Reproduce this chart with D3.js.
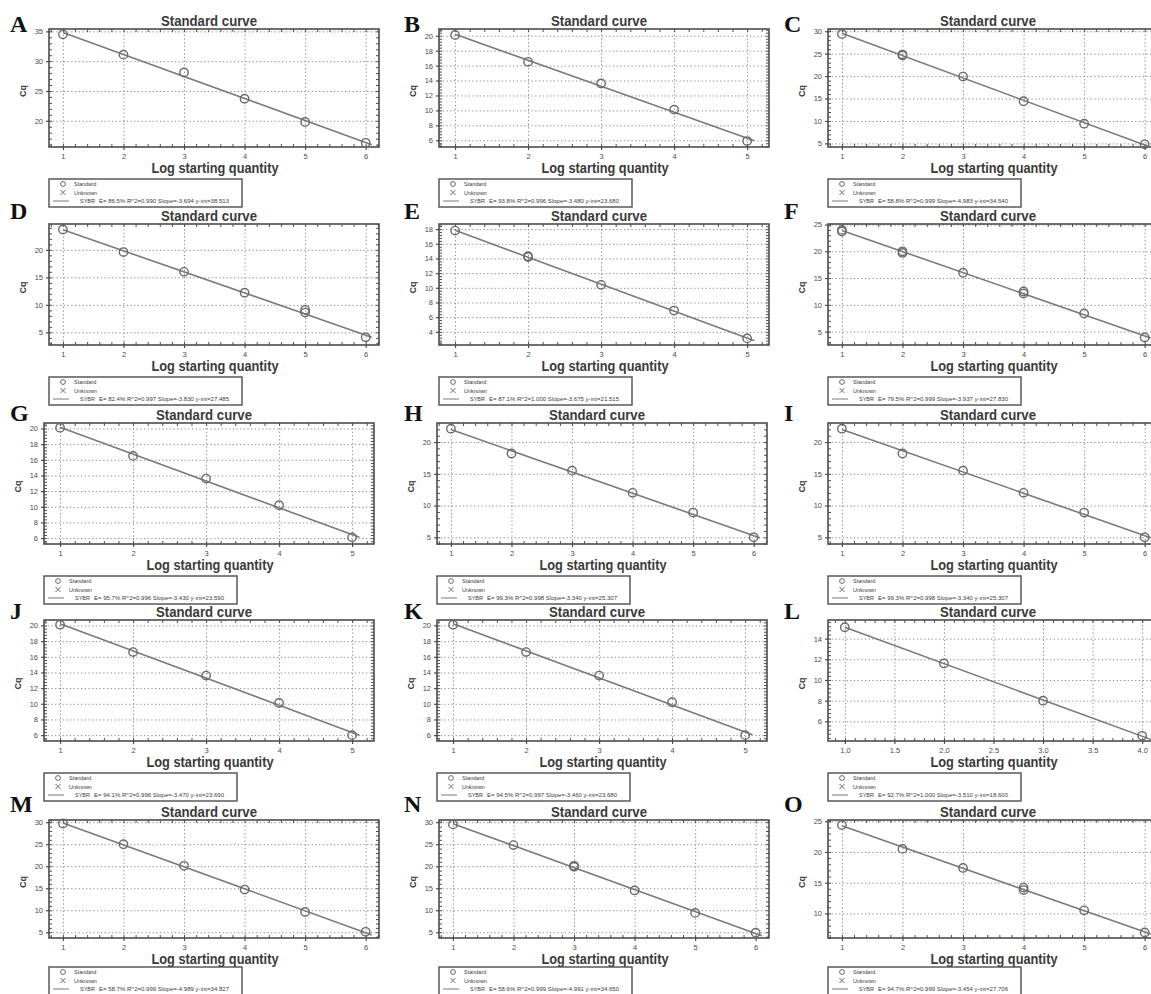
<!DOCTYPE html>
<html>
<head>
<meta charset="utf-8">
<script src="https://cdn.jsdelivr.net/npm/d3@7"></script>
<style>
  body { margin: 0; background: #fff; }
  svg { display: block; font-family: "Liberation Sans", Arial, sans-serif; }
  .letter { font-family: "Liberation Serif", "Times New Roman", serif; }
</style>
</head>
<body>
<svg id="fig" width="1151" height="994"></svg>
<script>
// ---- Data: qPCR standard curves (Cq vs log starting quantity) ----
const panelIds = ["A","B","C","D","E","F","G","H","I","J","K","L","M","N","O"];

const logQtyA = [1,2,3,4,5,6],           cqA = [34.5,31.1,28.1,23.7,19.8,16.3];
const logQtyB = [1,2,3,4,5],             cqB = [20.1,16.5,13.6,10.1,5.9];
const logQtyC = [1,2,2,3,4,5,6],         cqC = [29.4,24.8,24.6,19.9,14.4,9.4,4.8];
const logQtyD = [1,2,3,4,5,5,6],         cqD = [23.7,19.6,16.0,12.2,8.6,9.1,4.1];
const logQtyE = [1,2,2,3,4,5],           cqE = [17.8,14.3,14.2,10.4,6.9,3.1];
const logQtyF = [1,1,2,2,3,4,4,5,6],     cqF = [24.0,23.7,20.0,19.7,16.0,12.5,12.1,8.4,3.9];
const logQtyG = [1,2,3,4,5],             cqG = [20.1,16.5,13.6,10.2,6.1];
const logQtyH = [1,2,3,4,5,6],           cqH = [22.1,18.2,15.5,12.0,8.9,5.0];
const logQtyI = [1,2,3,4,5,6],           cqI = [22.1,18.2,15.5,12.0,8.9,5.0];
const logQtyJ = [1,2,3,4,5],             cqJ = [20.1,16.6,13.6,10.1,6.0];
const logQtyK = [1,2,3,4,5],             cqK = [20.1,16.6,13.6,10.2,6.0];
const logQtyL = [1,2,3,4],               cqL = [15.1,11.6,8.0,4.6];
const logQtyM = [1,2,3,4,5,6],           cqM = [29.7,25.0,20.1,14.7,9.6,5.1];
const logQtyN = [1,2,3,3,4,5,6],         cqN = [29.5,24.8,19.9,20.1,14.5,9.4,4.9];
const logQtyO = [1,2,3,4,4,5,6],         cqO = [24.4,20.5,17.4,14.2,13.8,10.5,6.9];

// Fit statistics shown in each legend (the regression line is drawn from these)
const slopes       = [-3.694,-3.480,-4.983,-3.830,-3.675,-3.937,-3.430,-3.340,-3.340,-3.470,-3.460,-3.510,-4.989,-4.991,-3.454];
const intercepts   = [38.513,23.680,34.540,27.485,21.515,27.830,23.590,25.307,25.307,23.690,23.680,18.600,34.827,34.650,27.706];
const efficiencies = [86.5,93.8,58.8,82.4,87.1,79.5,95.7,99.3,99.3,94.1,94.5,92.7,58.7,58.6,94.7];
const rSquared     = [0.990,0.996,0.999,0.997,1.000,0.999,0.996,0.998,0.998,0.996,0.997,1.000,0.999,0.999,0.999];

// Axis ticks and ranges
const xTicksSix  = [1,2,3,4,5,6];
const xTicksFive = [1,2,3,4,5];
const xTicksHalf = [1.0,1.5,2.0,2.5,3.0,3.5,4.0];
const xRangeSix  = [0.77, 6.22];
const xRangeFive = [0.78, 5.30];
const xRangeHalf = [0.83, 4.16];

const yTicksA = [20,25,30,35],            yRangeA = [15.6,35.4];
const yTicksB = [6,8,10,12,14,16,18,20],  yRangeB = [5.1,20.9];
const yTicksC = [5,10,15,20,25,30],       yRangeC = [4.2,30.5];
const yTicksD = [5,10,15,20],             yRangeD = [2.7,24.7];
const yTicksE = [4,6,8,10,12,14,16,18],   yRangeE = [2.2,18.7];
const yTicksF = [5,10,15,20,25],          yRangeF = [2.5,25.1];
const yTicksG = [6,8,10,12,14,16,18,20],  yRangeG = [5.25,20.7];
const yTicksH = [5,10,15,20],             yRangeH = [3.95,23.0];
const yTicksL = [6,8,10,12,14],           yRangeL = [4.1,15.8];
const yTicksM = [5,10,15,20,25,30],       yRangeM = [3.7,30.5];
const yTicksO = [10,15,20,25],            yRangeO = [6.0,25.2];

const legendLabels = ["Standard", "Unknown", "SYBR"];
const titleText = "Standard curve";
const xLabelText = "Log starting quantity";
const yLabelText = "Cq";

// Panel table assembled from the arrays above
const panels = [
  {x: logQtyA, y: cqA, xt: xTicksSix,  xr: xRangeSix,  yt: yTicksA, yr: yRangeA},
  {x: logQtyB, y: cqB, xt: xTicksFive, xr: xRangeFive, yt: yTicksB, yr: yRangeB},
  {x: logQtyC, y: cqC, xt: xTicksSix,  xr: xRangeSix,  yt: yTicksC, yr: yRangeC},
  {x: logQtyD, y: cqD, xt: xTicksSix,  xr: xRangeSix,  yt: yTicksD, yr: yRangeD},
  {x: logQtyE, y: cqE, xt: xTicksFive, xr: xRangeFive, yt: yTicksE, yr: yRangeE},
  {x: logQtyF, y: cqF, xt: xTicksSix,  xr: xRangeSix,  yt: yTicksF, yr: yRangeF},
  {x: logQtyG, y: cqG, xt: xTicksFive, xr: xRangeFive, yt: yTicksG, yr: yRangeG},
  {x: logQtyH, y: cqH, xt: xTicksSix,  xr: xRangeSix,  yt: yTicksH, yr: yRangeH},
  {x: logQtyI, y: cqI, xt: xTicksSix,  xr: xRangeSix,  yt: yTicksH, yr: yRangeH},
  {x: logQtyJ, y: cqJ, xt: xTicksFive, xr: xRangeFive, yt: yTicksG, yr: yRangeG},
  {x: logQtyK, y: cqK, xt: xTicksFive, xr: xRangeFive, yt: yTicksG, yr: yRangeG},
  {x: logQtyL, y: cqL, xt: xTicksHalf, xr: xRangeHalf, yt: yTicksL, yr: yRangeL},
  {x: logQtyM, y: cqM, xt: xTicksSix,  xr: xRangeSix,  yt: yTicksM, yr: yRangeM},
  {x: logQtyN, y: cqN, xt: xTicksSix,  xr: xRangeSix,  yt: yTicksM, yr: yRangeM},
  {x: logQtyO, y: cqO, xt: xTicksSix,  xr: xRangeSix,  yt: yTicksO, yr: yRangeO}
].map((p, i) => ({...p, id: panelIds[i], slope: slopes[i], intercept: intercepts[i],
                  eff: efficiencies[i], r2: rSquared[i]}));

// ---- Layout ----
const colLeft   = [49, 439, 828];
const colLetter = [10, 404, 784];
const rowTop    = [29, 224, 423, 620, 820];
const rowHeight = [118, 121, 121, 121, 118];
const letterDy  = [3, -5, -2, -1, -8];
const legendGap = [32, 32, 32, 32, 29];
const plotWidth = 330;
const leftShift = {G: -5, J: -5, H: -2, K: -2};

const frameColor = "#4d4d4d";
const gridColor  = "#8a8a8a";
const markColor  = "#6a6a6a";
const lineColor  = "#7a7a7a";
const textColor  = "#4a4a4a";

const svg = d3.select("#fig");

panels.forEach((p, i) => {
  const row = Math.floor(i / 3), col = i % 3;
  const left = colLeft[col] + (leftShift[p.id] || 0);
  const top = rowTop[row], h = rowHeight[row], w = plotWidth;
  const bottom = top + h;

  const x = d3.scaleLinear().domain(p.xr).range([left, left + w]);
  const y = d3.scaleLinear().domain(p.yr).range([bottom, top]);

  const g = svg.append("g").attr("class", "panel");

  // dotted grid at the major ticks
  g.append("g").attr("transform", `translate(0,${bottom})`)
    .call(d3.axisBottom(x).tickValues(p.xt).tickSize(-h).tickFormat(""))
    .call(s => s.select(".domain").remove())
    .selectAll("line").attr("stroke", gridColor).attr("stroke-width", 1)
    .attr("stroke-dasharray", "1.3,2.4");
  g.append("g").attr("transform", `translate(${left},0)`)
    .call(d3.axisLeft(y).tickValues(p.yt).tickSize(-w).tickFormat(""))
    .call(s => s.select(".domain").remove())
    .selectAll("line").attr("stroke", gridColor).attr("stroke-width", 1)
    .attr("stroke-dasharray", "1.3,2.4");

  // minor ticks pointing inward on all four sides
  const xStep = p.xt[1] - p.xt[0];
  const xMinorStep = xStep === 0.5 ? 0.1 : 0.2;
  const xMinor = d3.range(Math.ceil(p.xr[0] / xMinorStep) * xMinorStep, p.xr[1], xMinorStep);
  const yMinorStep = (p.yt[1] - p.yt[0]) / 5;
  const yMinor = d3.range(Math.ceil(p.yr[0] / yMinorStep) * yMinorStep, p.yr[1], yMinorStep);
  const tickStyle = s => {
    s.select(".domain").remove();
    s.selectAll("line").attr("stroke", frameColor).attr("stroke-width", 1);
  };
  g.append("g").attr("transform", `translate(0,${bottom})`)
    .call(d3.axisTop(x).tickValues(xMinor).tickSize(3).tickFormat("")).call(tickStyle);
  g.append("g").attr("transform", `translate(0,${top})`)
    .call(d3.axisBottom(x).tickValues(xMinor).tickSize(3).tickFormat("")).call(tickStyle);
  g.append("g").attr("transform", `translate(${left},0)`)
    .call(d3.axisRight(y).tickValues(yMinor).tickSize(3).tickFormat("")).call(tickStyle);
  g.append("g").attr("transform", `translate(${left + w},0)`)
    .call(d3.axisLeft(y).tickValues(yMinor).tickSize(3).tickFormat("")).call(tickStyle);

  // major ticks with labels
  const fmtX = xStep === 0.5 ? d3.format(".1f") : d3.format("d");
  const labelStyle = s => {
    s.select(".domain").remove();
    s.selectAll("line").attr("stroke", frameColor).attr("stroke-width", 1.2);
    s.selectAll("text").attr("font-size", 7.5).attr("fill", textColor)
      .attr("font-family", null);
  };
  g.append("g").attr("transform", `translate(0,${bottom})`)
    .call(d3.axisBottom(x).tickValues(p.xt).tickSize(3).tickPadding(4).tickFormat(fmtX))
    .call(labelStyle);
  g.append("g").attr("transform", `translate(${left},0)`)
    .call(d3.axisLeft(y).tickValues(p.yt).tickSize(3).tickPadding(3).tickFormat(d3.format("d")))
    .call(labelStyle);

  // plot frame
  g.append("rect").attr("x", left).attr("y", top).attr("width", w).attr("height", h)
    .attr("fill", "none").attr("stroke", frameColor).attr("stroke-width", 1.6);

  // regression line from the stated slope and intercept
  const xs = [d3.min(p.x), d3.max(p.x) + 0.1];
  g.append("path")
    .datum(xs.map(v => [v, p.slope * v + p.intercept]))
    .attr("d", d3.line().x(d => x(d[0])).y(d => y(d[1])))
    .attr("fill", "none").attr("stroke", lineColor).attr("stroke-width", 1.6);

  // standard points
  g.selectAll("circle.std").data(p.x.map((v, k) => [v, p.y[k]])).join("circle")
    .attr("class", "std")
    .attr("cx", d => x(d[0])).attr("cy", d => y(d[1])).attr("r", 4.2)
    .attr("fill", "none").attr("stroke", markColor).attr("stroke-width", 1.4);

  // titles
  g.append("text").attr("x", left + 160).attr("y", top - 3)
    .attr("text-anchor", "middle").attr("font-weight", "bold").attr("font-size", 15)
    .attr("fill", "#3a3a3a").attr("textLength", 96).attr("lengthAdjust", "spacingAndGlyphs")
    .text(titleText);
  g.append("text").attr("x", left + 166).attr("y", bottom + 26)
    .attr("text-anchor", "middle").attr("font-weight", "bold").attr("font-size", 15)
    .attr("fill", "#3a3a3a").attr("textLength", 127).attr("lengthAdjust", "spacingAndGlyphs")
    .text(xLabelText);
  g.append("text")
    .attr("transform", `translate(${left - 23},${top + h / 2 + 3}) rotate(-90)`)
    .attr("text-anchor", "middle").attr("font-weight", "bold").attr("font-size", 9)
    .attr("fill", "#3a3a3a").text(yLabelText);

  // panel letter
  g.append("text").attr("class", "letter")
    .attr("x", colLetter[col]).attr("y", top + letterDy[row])
    .attr("font-weight", "bold").attr("font-size", 24).attr("fill", "#111")
    .text(p.id);

  // legend
  const lx = left, ly = bottom + legendGap[row];
  const lg = g.append("g");
  lg.append("rect").attr("x", lx).attr("y", ly).attr("width", 193).attr("height", 28)
    .attr("fill", "#fff").attr("stroke", frameColor).attr("stroke-width", 1.4);
  lg.append("circle").attr("cx", lx + 14).attr("cy", ly + 5).attr("r", 2.4)
    .attr("fill", "none").attr("stroke", markColor).attr("stroke-width", 1);
  lg.append("path").attr("d", `M${lx + 11.5},${ly + 11}L${lx + 16.5},${ly + 16}M${lx + 16.5},${ly + 11}L${lx + 11.5},${ly + 16}`)
    .attr("stroke", markColor).attr("stroke-width", 1);
  lg.append("line").attr("x1", lx + 4).attr("x2", lx + 20).attr("y1", ly + 22).attr("y2", ly + 22)
    .attr("stroke", lineColor).attr("stroke-width", 1);
  const small = sel => sel.attr("font-size", 5.5).attr("fill", "#3a3a3a");
  lg.append("text").attr("x", lx + 25).attr("y", ly + 7).text(legendLabels[0]).call(small);
  lg.append("text").attr("x", lx + 25).attr("y", ly + 15.5).text(legendLabels[1]).call(small);
  lg.append("text").attr("x", lx + 31).attr("y", ly + 24).text(legendLabels[2]).call(small);
  lg.append("text").attr("x", lx + 50).attr("y", ly + 24)
    .attr("textLength", 130).attr("lengthAdjust", "spacingAndGlyphs")
    .text(`E= ${p.eff.toFixed(1)}% R^2=${p.r2.toFixed(3)} Slope=${p.slope.toFixed(3)} y-int=${p.intercept.toFixed(3)}`)
    .call(small);
});
</script>
</body>
</html>
